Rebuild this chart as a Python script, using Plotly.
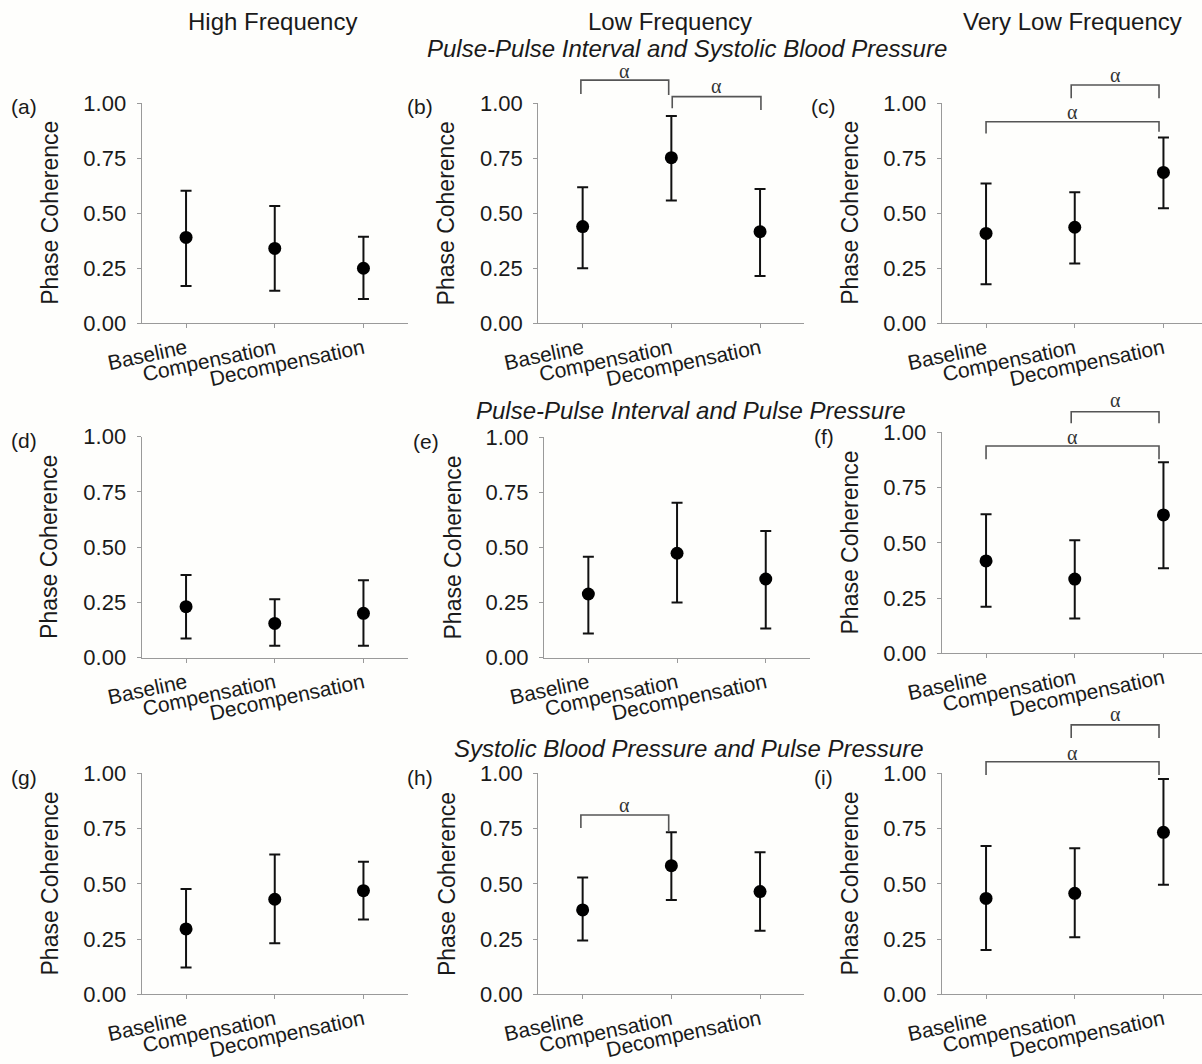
import plotly.graph_objects as go

categories = ["Baseline", "Compensation", "Decompensation"]
panel_labels = ["(a)", "(b)", "(c)", "(d)", "(e)", "(f)", "(g)", "(h)", "(i)"]
col_titles = ["High Frequency", "Low Frequency", "Very Low Frequency"]
row_titles = ["Pulse-Pulse Interval and Systolic Blood Pressure",
              "Pulse-Pulse Interval and Pulse Pressure",
              "Systolic Blood Pressure and Pulse Pressure"]
y_ticks = [0.0, 0.25, 0.5, 0.75, 1.0]
y_title = "Phase Coherence"

# mean, upper bound, lower bound per panel (a..i)
mean_a = [0.390, 0.340, 0.250]; upper_a = [0.602, 0.533, 0.393]; lower_a = [0.169, 0.148, 0.110]
mean_b = [0.439, 0.752, 0.416]; upper_b = [0.617, 0.941, 0.610]; lower_b = [0.250, 0.557, 0.215]
mean_c = [0.408, 0.436, 0.685]; upper_c = [0.635, 0.595, 0.843]; lower_c = [0.177, 0.272, 0.522]
mean_d = [0.231, 0.155, 0.201]; upper_d = [0.374, 0.264, 0.350]; lower_d = [0.087, 0.054, 0.054]
mean_e = [0.289, 0.474, 0.357]; upper_e = [0.458, 0.703, 0.575]; lower_e = [0.110, 0.251, 0.133]
mean_f = [0.418, 0.336, 0.626]; upper_f = [0.629, 0.511, 0.864]; lower_f = [0.211, 0.158, 0.385]
mean_g = [0.296, 0.430, 0.469]; upper_g = [0.477, 0.633, 0.600]; lower_g = [0.121, 0.231, 0.339]
mean_h = [0.382, 0.582, 0.465]; upper_h = [0.529, 0.733, 0.643]; lower_h = [0.243, 0.427, 0.287]
mean_i = [0.434, 0.457, 0.733]; upper_i = [0.671, 0.661, 0.974]; lower_i = [0.201, 0.258, 0.496]

means = [mean_a, mean_b, mean_c, mean_d, mean_e, mean_f, mean_g, mean_h, mean_i]
uppers = [upper_a, upper_b, upper_c, upper_d, upper_e, upper_f, upper_g, upper_h, upper_i]
lowers = [lower_a, lower_b, lower_c, lower_d, lower_e, lower_f, lower_g, lower_h, lower_i]

# significance brackets: panel index, x start, x end, bar level, left tick end, right tick end, label level
brackets = [
    (1, -0.02, 0.97, 1.104, 1.041, 1.036, 1.147),
    (1, 1.01, 2.01, 1.029, 0.976, 0.968, 1.077),
    (2, 0.96, 1.95, 1.082, 1.021, 1.021, 1.127),
    (2, 0.00, 1.95, 0.915, 0.862, 0.870, 0.960),
    (5, 0.96, 1.95, 1.093, 1.041, 1.041, 1.146),
    (5, 0.00, 1.95, 0.938, 0.878, 0.878, 0.977),
    (7, -0.02, 0.97, 0.811, 0.752, 0.736, 0.857),
    (8, 0.96, 1.95, 1.219, 1.160, 1.160, 1.270),
    (8, 0.00, 1.95, 1.052, 0.992, 0.992, 1.092),
]
bracket_label = "α"

# ---- layout geometry (pixels) ----
W, H = 1202, 1064
UNIT_X = 88.7
# left axis x, pixel of y=1, pixel of y=0
geo = [
    (141.7, 103.0, 323.3), (538.3, 103.0, 323.3), (941.7, 103.0, 323.3),
    (141.7, 436.7, 657.7), (544.0, 437.3, 657.7), (941.7, 432.3, 653.3),
    (141.7, 773.3, 994.3), (538.3, 773.3, 994.3), (941.7, 773.3, 994.3),
]

FONT = "Liberation Sans, Arial, sans-serif"
AXIS_COLOR = "#9a9a9a"
BRACKET_COLOR = "#555555"
BG = "#fefefc"

fig = go.Figure()
layout_axes = {}
annotations = []
shapes = []
xranges = []

for k in range(9):
    xl, ytop, ybot = geo[k]
    xr = min(xl + 3 * UNIT_X, W)
    xmin = -0.5
    xmax = xmin + (xr - xl) / UNIT_X
    xranges.append((xmin, xmax))
    xa = "xaxis" if k == 0 else f"xaxis{k+1}"
    ya = "yaxis" if k == 0 else f"yaxis{k+1}"
    xid = "x" if k == 0 else f"x{k+1}"
    yid = "y" if k == 0 else f"y{k+1}"
    layout_axes[xa] = dict(
        domain=[xl / W, xr / W], range=[xmin, xmax], anchor=yid,
        tickvals=list(range(len(categories))), ticktext=categories,
        tickangle=-12, tickfont=dict(family=FONT, size=21, color="#1a1a1a"),
        showline=True, linecolor=AXIS_COLOR, linewidth=1.3,
        ticks="outside", ticklen=4, tickcolor=AXIS_COLOR, tickwidth=1,
        showgrid=False, zeroline=False, fixedrange=True, automargin=False,
    )
    layout_axes[ya] = dict(
        domain=[1 - ybot / H, 1 - ytop / H], range=[0, 1], anchor=xid,
        tickvals=y_ticks, ticktext=[f"{v:.2f}" for v in y_ticks],
        tickfont=dict(family=FONT, size=22, color="#1a1a1a"),
        showline=True, linecolor=AXIS_COLOR, linewidth=1.3,
        ticks="outside", ticklen=4, tickcolor=AXIS_COLOR, tickwidth=1,
        ticklabelstandoff=6,
        showgrid=False, zeroline=False, fixedrange=True, automargin=False,
    )
    m = means[k]
    up = [u - v for u, v in zip(uppers[k], m)]
    dn = [v - l for v, l in zip(m, lowers[k])]
    fig.add_trace(go.Scatter(
        x=list(range(len(categories))), y=m, mode="markers",
        marker=dict(color="black", size=13),
        error_y=dict(type="data", symmetric=False, array=up, arrayminus=dn,
                     color="#111111", thickness=2, width=5.5),
        xaxis=xid, yaxis=yid, showlegend=False, cliponaxis=False,
    ))
    # y-axis title
    annotations.append(dict(
        text=y_title, textangle=-90, xref="paper", yref="paper",
        x=(xl - 92) / W, y=1 - (ytop + ybot) / 2 / H, showarrow=False,
        font=dict(family=FONT, size=23, color="#1a1a1a"),
        xanchor="center", yanchor="middle",
    ))
    # panel label
    annotations.append(dict(
        text=panel_labels[k], xref="paper", yref="paper",
        x=(xl - 118) / W, y=1 - (ytop + 4) / H, showarrow=False,
        font=dict(family=FONT, size=21, color="#1a1a1a"),
        xanchor="center", yanchor="middle",
    ))

# brackets (drawn in axis-domain coordinates derived from the data scale)
for (k, x0, x1, lvl, t0, t1, lab) in brackets:
    xmin, xmax = xranges[k]
    xd = "x domain" if k == 0 else f"x{k+1} domain"
    yd = "y domain" if k == 0 else f"y{k+1} domain"
    fx = lambda v: (v - xmin) / (xmax - xmin)
    pts = [(x0, t0), (x0, lvl), (x1, lvl), (x1, t1)]
    path = "M " + " L ".join(f"{fx(px):.5f},{py:.5f}" for px, py in pts)
    shapes.append(dict(type="path", path=path, xref=xd, yref=yd,
                       line=dict(color=BRACKET_COLOR, width=1.6)))
    annotations.append(dict(
        text=bracket_label, xref=xd, yref=yd, x=fx((x0 + x1) / 2), y=lab,
        showarrow=False, font=dict(family="Liberation Serif, Times New Roman, serif",
                                     size=20, color="#333333"),
        xanchor="center", yanchor="middle",
    ))

# column titles
col_centers = [272.5, 669.7, 1072.7]
for t, cx in zip(col_titles, col_centers):
    annotations.append(dict(text=t, xref="paper", yref="paper", x=cx / W, y=1 - 21.5 / H,
                            showarrow=False, font=dict(family=FONT, size=24, color="#1a1a1a"),
                            xanchor="center", yanchor="middle"))
# row titles (italic)
row_pos = [(687.3, 48.5), (690.8, 410.5), (688.8, 748.0)]
for t, (cx, cy) in zip(row_titles, row_pos):
    annotations.append(dict(text=f"<i>{t}</i>", xref="paper", yref="paper", x=cx / W, y=1 - cy / H,
                            showarrow=False, font=dict(family=FONT, size=24, color="#1a1a1a"),
                            xanchor="center", yanchor="middle"))

fig.update_layout(
    width=W, height=H, margin=dict(l=0, r=0, t=0, b=0, pad=0, autoexpand=False),
    paper_bgcolor=BG, plot_bgcolor="rgba(0,0,0,0)",
    showlegend=False, annotations=annotations, shapes=shapes,
    **layout_axes,
)

fig.write_html("out.html", post_script="document.body.style.margin='0';",
               config={"displayModeBar": False})
